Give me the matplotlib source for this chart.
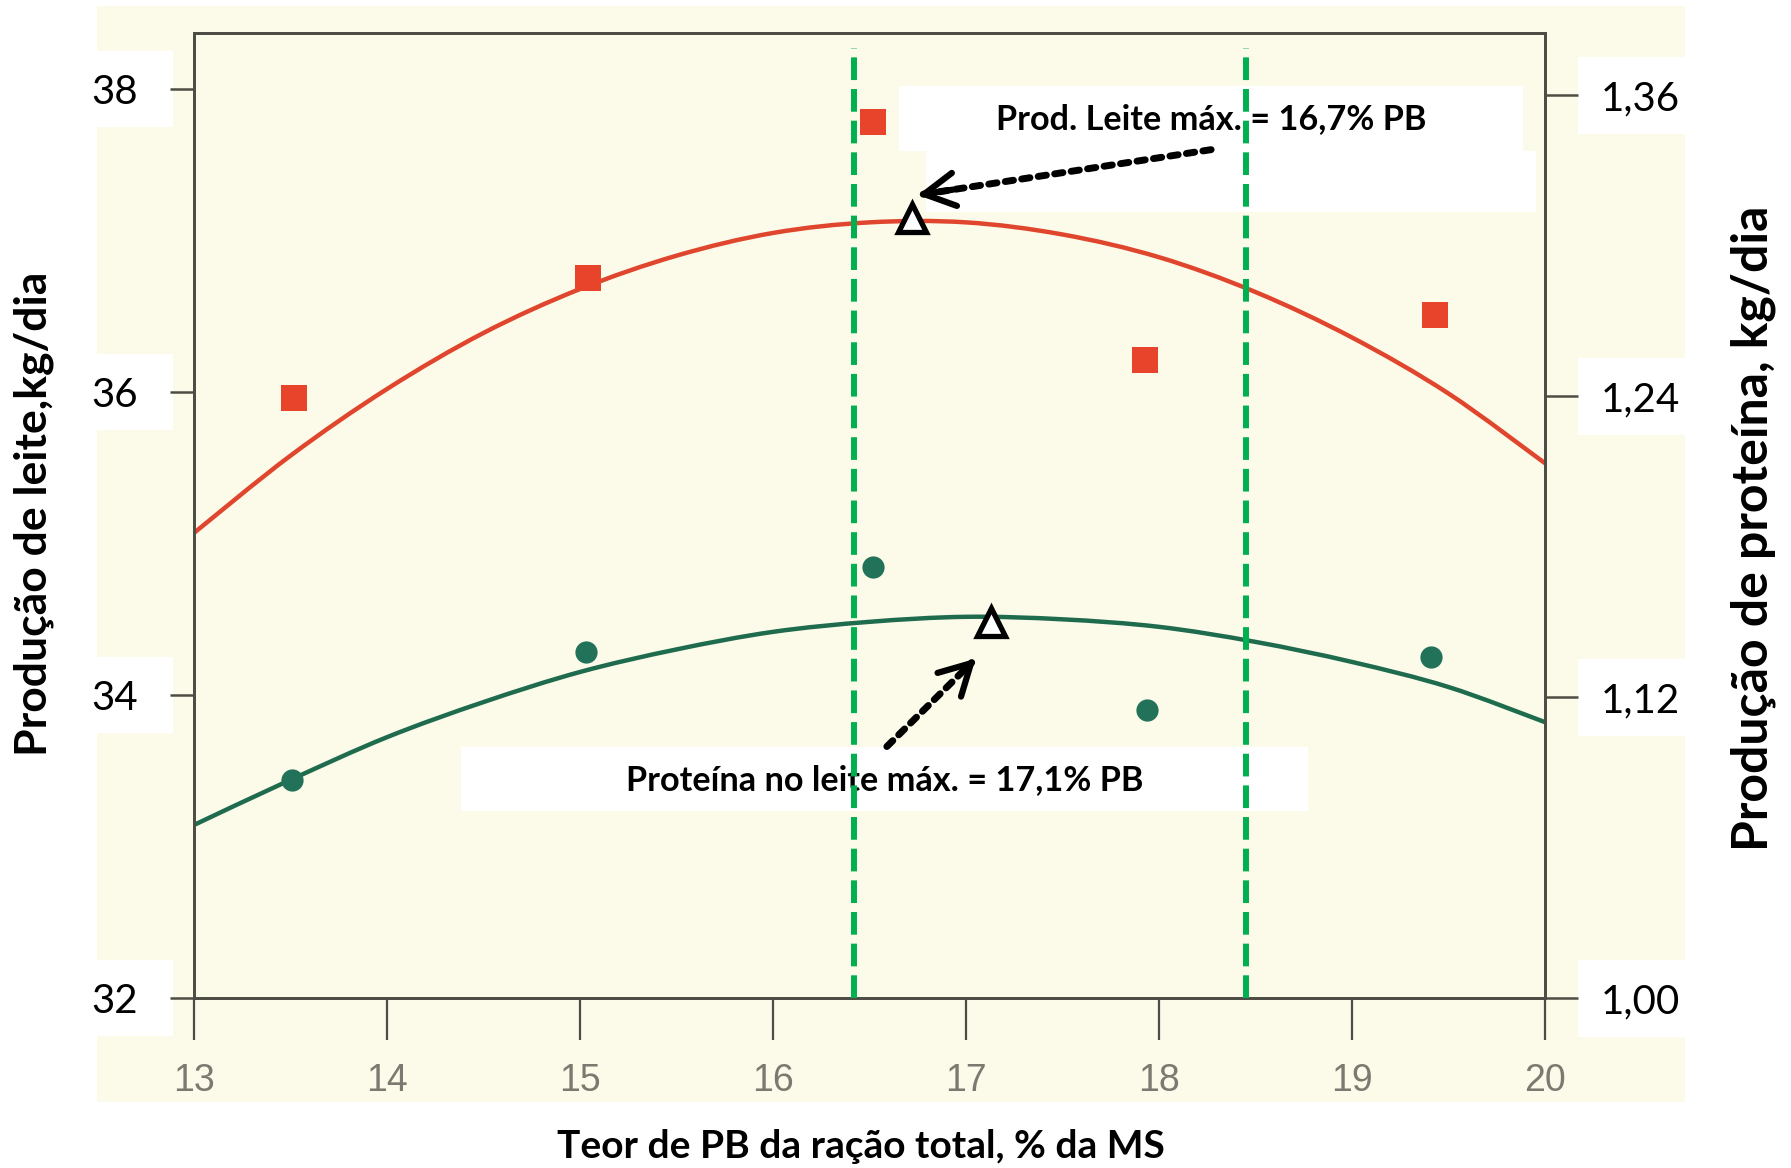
import matplotlib
matplotlib.use("Agg")
import matplotlib.pyplot as plt
from matplotlib.patches import Rectangle, PathPatch
from matplotlib.path import Path
from matplotlib import transforms

# ---------- Dados ----------
# Produção de leite (eixo esquerdo, kg/dia)
pb_leite = [13.52, 15.04, 16.52, 17.93, 19.43]
leite = [35.96, 36.75, 37.78, 36.21, 36.51]

# Produção de proteína (eixo direito, kg/dia)
pb_prot = [13.51, 15.03, 16.52, 17.94, 19.41]
proteina = [1.087, 1.138, 1.172, 1.115, 1.136]

curva_pb = [13.0, 13.5, 14.0, 14.5, 15.0, 15.5, 16.0, 16.5,
            17.0, 17.5, 18.0, 18.5, 19.0, 19.5, 20.0]
curva_leite = [35.07, 35.58, 36.02, 36.39, 36.68, 36.90, 37.05, 37.12,
               37.12, 37.04, 36.89, 36.66, 36.36, 35.99, 35.53]
curva_prot = [1.069, 1.087, 1.104, 1.118, 1.130, 1.139, 1.146, 1.150,
              1.152, 1.151, 1.148, 1.142, 1.134, 1.124, 1.110]

# Pontos de máximo
max_leite = (16.72, 37.15)
max_prot = (17.13, 1.150)

# Faixa recomendada (linhas verdes tracejadas)
faixa_pb = [16.42, 18.45]

xticks = [13, 14, 15, 16, 17, 18, 19, 20]
yticks_esq = [32, 34, 36, 38]
yticks_dir = [1.00, 1.12, 1.24, 1.36]
yticks_dir_lab = ["1,00", "1,12", "1,24", "1,36"]


# ---------- Utilidades ----------
def curva_suave(xs, ys):
    # traço suave (Bezier) passando pelos pontos lidos
    pts = list(zip(xs, ys))
    n = len(pts)
    verts = [pts[0]]
    codes = [Path.MOVETO]
    for i in range(n - 1):
        p0 = pts[max(i - 1, 0)]
        p1 = pts[i]
        p2 = pts[i + 1]
        p3 = pts[min(i + 2, n - 1)]
        c1 = (p1[0] + (p2[0] - p0[0]) / 6, p1[1] + (p2[1] - p0[1]) / 6)
        c2 = (p2[0] - (p3[0] - p1[0]) / 6, p2[1] - (p3[1] - p1[1]) / 6)
        verts += [c1, c2, p2]
        codes += [Path.CURVE4] * 3
    return Path(verts, codes)


# ---------- Estilo ----------
plt.rcParams['font.family'] = ['Lato', 'DejaVu Sans']
W, H = 1791, 1168
creme = '#fcfbe9'
vermelho = '#e0452e'
verde_escuro = '#1f6b4e'
verde_faixa = '#00b050'
cinza_eixo = '#4d4d45'

fig = plt.figure(figsize=(W / 100, H / 100), dpi=100)
fig.patch.set_facecolor('white')
fig.add_artist(Rectangle((97 / W, 1 - 1102 / H), (1685 - 97) / W, (1102 - 6) / H,
                         transform=fig.transFigure, fc=creme, ec='none', zorder=-1))

ax = fig.add_axes([194 / W, 1 - 998 / H, (1545 - 194) / W, (998 - 33) / H])
ax.set_facecolor('none')
ax2 = ax.twinx()

# ---------- Séries ----------
ax.add_patch(PathPatch(curva_suave(curva_pb, curva_leite), fill=False,
                       ec=vermelho, lw=3.2, zorder=2))
ax.plot(pb_leite, leite, 's', color='#e8442b', ms=18.5, mew=0, zorder=3)

ax2.add_patch(PathPatch(curva_suave(curva_pb, curva_prot), fill=False,
                        ec=verde_escuro, lw=3.2, zorder=2))
ax2.plot(pb_prot, proteina, 'o', color='#22725a', ms=16, mew=0, zorder=3)

# ---------- Eixos ----------
for a in (ax, ax2):
    for s in a.spines.values():
        s.set_color(cinza_eixo)
        s.set_linewidth(2)

ax.set_xticks(xticks)
ax.set_xticklabels([str(v) for v in xticks], family='Liberation Sans',
                   fontsize=27, color='#7a7a70')
ax.tick_params(axis='x', direction='out', length=30, width=1.6,
               color=cinza_eixo, pad=17)

ax.set_yticks(yticks_esq)
ax.set_yticklabels([str(v) for v in yticks_esq], fontsize=29)
ax.tick_params(axis='y', direction='out', length=17, width=1.8,
               color=cinza_eixo, pad=23)

ax2.set_yticks(yticks_dir)
ax2.set_yticklabels(yticks_dir_lab, fontsize=29)
ax2.tick_params(axis='y', direction='out', length=24, width=1.8,
                color=cinza_eixo, pad=16)

# caixas brancas atrás dos rótulos dos eixos y
tr_esq = transforms.blended_transform_factory(fig.transFigure, ax.transData)
for v in yticks_esq:
    ax.add_patch(Rectangle((97 / W, v - 0.25), 76 / W, 0.5, transform=tr_esq,
                           fc='white', ec='none', clip_on=False, zorder=0.5))
tr_dir = transforms.blended_transform_factory(fig.transFigure, ax2.transData)
for v in yticks_dir:
    ax2.add_patch(Rectangle((1578 / W, v - 0.0154), 107 / W, 0.0307, transform=tr_dir,
                            fc='white', ec='none', clip_on=False, zorder=0.5))

ax.set_xlabel('Teor de PB da ração total, % da MS', fontsize=28, fontweight='bold')
ax.xaxis.set_label_coords(0.4937, -0.1534)
ax.xaxis.label.set_va('center')
ax.set_ylabel('Produção de leite,kg/dia', fontsize=32, fontweight='bold', va='center')
ax.yaxis.set_label_coords(-0.1184, 0.5016)
ax2.set_ylabel('Produção de proteína, kg/dia', fontsize=36, fontweight='bold',
               va='center', rotation=90)
ax2.yaxis.set_label_coords(1.154, 0.487)

# ---------- Anotações ----------
caixas = [(16.655, 37.59, 3.23, 0.43),
          (16.795, 37.19, 3.157, 0.40),
          (14.381, 33.234, 4.393, 0.423)]
for x0, y0, w, h in caixas:
    ax2.add_patch(Rectangle((x0, y0), w, h, transform=ax.transData,
                            fc='white', ec='none', zorder=4))

ax2.text(18.27, 37.80, 'Prod. Leite máx. = 16,7% PB', transform=ax.transData,
         ha='center', va='center', fontsize=24.7, fontweight='bold', zorder=5)
ax2.text(16.577, 33.44, 'Proteína no leite máx. = 17,1% PB', transform=ax.transData,
         ha='center', va='center', fontsize=24.7, fontweight='bold', zorder=5)

# setas pontilhadas com ponta aberta
setas = [((18.27, 37.60), (16.75, 37.30)),
         ((16.59, 33.66), (17.05, 34.24))]
for (xs, ys), (xt, yt) in setas:
    ax2.annotate('', xy=(xt, yt), xytext=(xs, ys), xycoords=ax.transData,
                 textcoords=ax.transData,
                 arrowprops=dict(arrowstyle='-', lw=5, ls=(0, (1.2, 1.2)),
                                 color='black', shrinkA=0, shrinkB=4),
                 zorder=6)
    f = 0.12
    ax2.annotate('', xy=(xt, yt), xytext=(xt + (xs - xt) * f, yt + (ys - yt) * f),
                 xycoords=ax.transData, textcoords=ax.transData,
                 arrowprops=dict(arrowstyle='->,head_length=1.1,head_width=0.6',
                                 mutation_scale=20, lw=4.5, color='black',
                                 shrinkA=0, shrinkB=0),
                 zorder=6)

ax2.plot([max_leite[0]], [max_leite[1]], '^', transform=ax.transData,
         ms=20, mfc='white', mec='black', mew=3.8, zorder=7)
ax2.plot([max_prot[0]], [max_prot[1]], '^', ms=20, mfc='white', mec='black',
         mew=3.8, zorder=7)

for xv in faixa_pb:
    ax2.plot([xv, xv], [32.0, 38.27], transform=ax.transData, color=verde_faixa,
             lw=4.3, ls=(0, (3.8, 1.5)), solid_capstyle='butt', clip_on=False, zorder=8)

ax.set_xlim(13, 20)
ax.set_ylim(32.0, 38.37)
ax2.set_ylim(1.0, 1.3848)

fig.savefig('out.png', dpi=100)
